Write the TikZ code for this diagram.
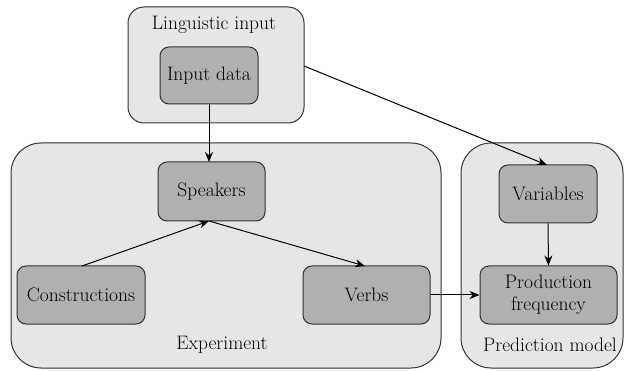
\documentclass[tikz,border=0pt]{standalone}
\usetikzlibrary{arrows.meta}
\definecolor{outerfill}{RGB}{230,230,230}
\definecolor{innerfill}{RGB}{176,176,176}
\definecolor{edgecol}{RGB}{50,50,50}
\begin{document}
\begin{tikzpicture}[x=1pt,y=-1pt,
  container/.style={draw=edgecol, line width=1pt, fill=outerfill, inner sep=0pt},
  item/.style={draw=edgecol, line width=1pt, fill=innerfill, rounded corners=9pt, inner sep=0pt, font=\rmfamily\fontsize{19.5}{22}\selectfont, align=center},
  lbl/.style={font=\rmfamily\fontsize{19.5}{22}\selectfont, inner sep=0pt},
  conn/.style={line width=1pt, -{Stealth[length=10pt,width=8pt]}}]
\useasboundingbox (0,0) rectangle (629,371);
% containers
\node[container, rounded corners=16pt, minimum width=176pt, minimum height=116pt] (ling) at (216,65) {};
\node[container, rounded corners=30pt, minimum width=430pt, minimum height=225pt] (exp) at (226,255.5) {};
\node[container, rounded corners=30pt, minimum width=162pt, minimum height=225pt] (pred) at (542,255.5) {};
\node[lbl] (lingl) at (214,25) {Linguistic input};
\node[lbl] (expl) at (222,345) {Experiment};
\node[lbl] (predl) at (550,345) {Prediction model};
% items
\node[item, minimum width=98pt, minimum height=57pt] (inp) at (209,75.5) {Input data};
\node[item, minimum width=107pt, minimum height=59pt] (spk) at (211.5,191.5) {Speakers};
\node[item, minimum width=128pt, minimum height=58pt] (con) at (81,295) {Constructions};
\node[item, minimum width=127pt, minimum height=58pt] (vrb) at (366.5,295) {Verbs};
\node[item, minimum width=98pt, minimum height=58pt] (var) at (548,194) {Variables};
\node[item, minimum width=137pt, minimum height=58pt] (prod) at (548.5,295) {Production\\frequency};
% connectors
\coordinate (lingout) at (304,66);
\coordinate (spkin) at (209,162);
\coordinate (spkmid) at (209,221);
\coordinate (conout) at (82,266);
\coordinate (vrbin) at (365,266);
\coordinate (varin) at (547,165);
\draw[conn] (inp.south -| spkin) -- (spkin);
\draw[conn] (lingout) -- (varin);
\draw[conn] (conout) -- (spkmid);
\draw[conn] (spkmid) -- (vrbin);
\draw[conn] (vrb.east) -- (prod.west);
\draw[conn] (var.south) -- (prod.north);
\end{tikzpicture}
\end{document}
